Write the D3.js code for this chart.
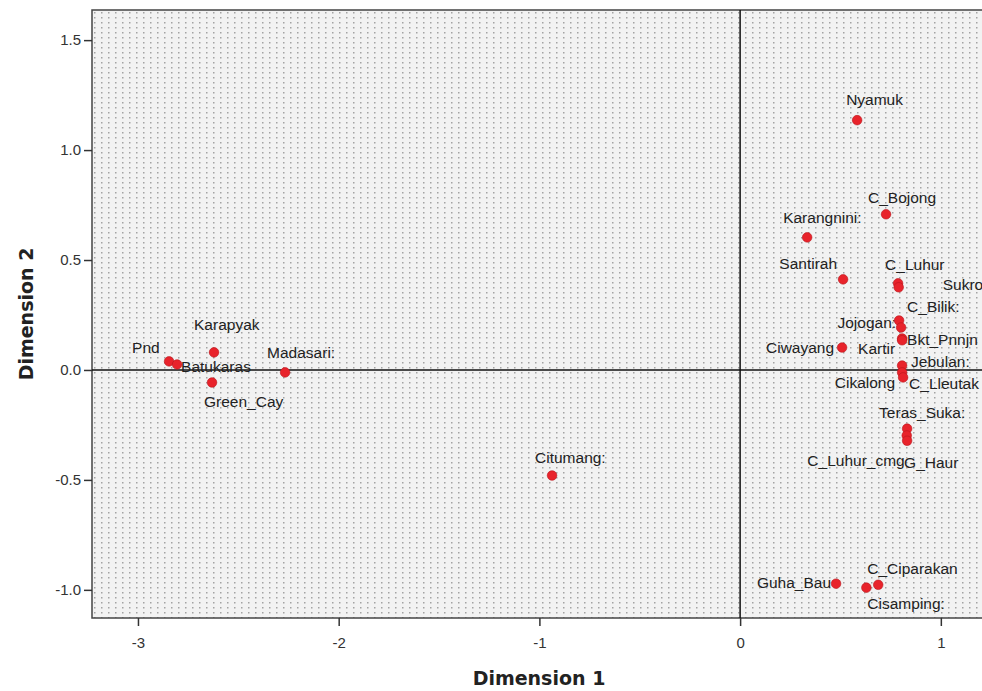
<!DOCTYPE html>
<html>
<head>
<meta charset="utf-8">
<script src="https://cdn.jsdelivr.net/npm/d3@7"></script>
<style>
  body { margin: 0; background: #fff; }
  svg { display: block; font-family: "Liberation Sans", Arial, sans-serif; }
</style>
</head>
<body>
<svg id="chart" width="982" height="691"></svg>
<script>
// site names and their coordinates on the two dimensions
const sites = ['Pnd', 'Batukaras', 'Karapyak', 'Green_Cay', 'Madasari', 'Citumang',
  'Nyamuk', 'C_Bojong', 'Karangnini', 'Santirah', 'C_Luhur', 'Sukro', 'C_Bilik',
  'Jojogan', 'Bkt_Pnnjn', 'Kartir', 'Ciwayang', 'Jebulan', 'Cikalong', 'C_Lleutak',
  'Teras_Suka', 'C_Luhur_cmg', 'G_Haur', 'Guha_Bau', 'Cisamping', 'C_Ciparakan']
const dim1 = [-2.845, -2.805, -2.621, -2.631, -2.267, -0.937,
  0.583, 0.727, 0.334, 0.513, 0.787, 0.790, 0.792,
  0.802, 0.807, 0.807, 0.508, 0.807, 0.807, 0.812,
  0.832, 0.830, 0.832, 0.478, 0.629, 0.688]
const dim2 = [0.039, 0.025, 0.080, -0.057, -0.011, -0.480,
  1.136, 0.708, 0.603, 0.412, 0.394, 0.376, 0.225,
  0.193, 0.143, 0.135, 0.102, 0.020, -0.011, -0.034,
  -0.267, -0.298, -0.322, -0.972, -0.990, -0.977]
// text shown next to each point
const labels = ['Pnd', 'Batukaras', 'Karapyak', 'Green_Cay', 'Madasari:', 'Citumang:',
  'Nyamuk', 'C_Bojong', 'Karangnini:', 'Santirah', 'C_Luhur', 'Sukro', 'C_Bilik:',
  'Jojogan:', 'Bkt_Pnnjn', 'Kartir', 'Ciwayang', 'Jebulan:', 'Cikalong', 'C_Lleutak',
  'Teras_Suka:', 'C_Luhur_cmg', 'G_Haur', 'Guha_Bau', 'Cisamping:', 'C_Ciparakan']
const xTicks = [-3, -2, -1, 0, 1]
const yTicks = [-1.0, -0.5, 0.0, 0.5, 1.0, 1.5]

// label placement relative to the point: [dx, dy, anchor]
const labelPos = {
  'Pnd': [-37, -14, 'start'], 'Batukaras': [4, 2, 'start'], 'Karapyak': [-20, -28, 'start'],
  'Green_Cay': [-8, 19, 'start'], 'Madasari': [-18, -20, 'start'], 'Citumang': [-17, -18, 'start'],
  'Nyamuk': [-11, -21, 'start'], 'C_Bojong': [-18, -17, 'start'], 'Karangnini': [-24, -20, 'start'],
  'Santirah': [-6, -16, 'end'], 'C_Luhur': [-13, -19, 'start'], 'Sukro': [44, -3, 'start'],
  'C_Bilik': [8, -14, 'start'], 'Jojogan': [-5, -5, 'end'], 'Bkt_Pnnjn': [5, 1, 'start'],
  'Kartir': [-7, 8, 'end'], 'Ciwayang': [-8, 0, 'end'], 'Jebulan': [9, -4, 'start'],
  'Cikalong': [-7, 10, 'end'], 'C_Lleutak': [6, 6, 'start'], 'Teras_Suka': [-28, -16, 'start'],
  'C_Luhur_cmg': [-2, 25, 'end'], 'G_Haur': [-3, 22, 'start'], 'Guha_Bau': [-5, -1, 'end'],
  'Cisamping': [1, 16, 'start'], 'C_Ciparakan': [-11, -16, 'start']
}

const points = sites.map((s, i) => ({ site: s, x: dim1[i], y: dim2[i], label: labels[i] }))

const plot = { left: 92, top: 10, right: 986, bottom: 618 }
const svg = d3.select('#chart')

const xScale = d3.scaleLinear().domain([-3.229, 1.225]).range([plot.left, plot.right])
const yScale = d3.scaleLinear().domain([-1.128, 1.637]).range([plot.bottom, plot.top])

// SPSS style tick text uses a plain hyphen for negatives
const hyphen = f => d => f(d).replace('\u2212', '-')

// dotted background like the SPSS chart fill
const defs = svg.append('defs')
const pat = defs.append('pattern')
  .attr('id', 'dots').attr('patternUnits', 'userSpaceOnUse')
  .attr('width', 7).attr('height', 5)
pat.append('rect').attr('width', 7).attr('height', 5).attr('fill', '#f2f2f2')
pat.append('rect').attr('x', 3).attr('y', 2).attr('width', 1.5).attr('height', 1.5).attr('fill', '#a3a3a3')

svg.append('rect')
  .attr('x', plot.left).attr('y', plot.top)
  .attr('width', plot.right - plot.left).attr('height', plot.bottom - plot.top)
  .attr('fill', 'url(#dots)')
  .attr('stroke', '#444').attr('stroke-width', 1.5)

// axes
const xAxis = svg.append('g')
  .attr('transform', `translate(0, ${plot.bottom})`)
  .call(d3.axisBottom(xScale).tickValues(xTicks).tickFormat(hyphen(d3.format('d'))).tickSize(8).tickSizeOuter(0))
const yAxis = svg.append('g')
  .attr('transform', `translate(${plot.left}, 0)`)
  .call(d3.axisLeft(yScale).tickValues(yTicks).tickFormat(hyphen(d3.format('.1f'))).tickSize(8).tickSizeOuter(0))

;[xAxis, yAxis].forEach(ax => {
  ax.select('.domain').remove()
  ax.selectAll('line').attr('stroke', '#333').attr('stroke-width', 1.5)
  ax.selectAll('text').attr('fill', '#333').style('font-size', '15px')
    .style('font-family', '"Liberation Sans", Arial, sans-serif')
})
xAxis.selectAll('text').attr('dy', '1.25em')
yAxis.selectAll('text').attr('x', -11)

// reference lines at zero
svg.append('line')
  .attr('x1', xScale(0)).attr('x2', xScale(0))
  .attr('y1', plot.top).attr('y2', plot.bottom)
  .attr('stroke', '#111').attr('stroke-width', 1.5)
svg.append('line')
  .attr('x1', plot.left).attr('x2', plot.right)
  .attr('y1', yScale(0)).attr('y2', yScale(0))
  .attr('stroke', '#111').attr('stroke-width', 1.5)

// labels
svg.append('g').selectAll('text')
  .data(points)
  .join('text')
  .attr('x', d => xScale(d.x) + labelPos[d.site][0])
  .attr('y', d => yScale(d.y) + labelPos[d.site][1])
  .attr('dy', '0.35em')
  .attr('text-anchor', d => labelPos[d.site][2])
  .attr('fill', '#222')
  .style('font-size', '15.5px')
  .text(d => d.label)

// points
svg.append('g').selectAll('circle')
  .data(points)
  .join('circle')
  .attr('cx', d => xScale(d.x))
  .attr('cy', d => yScale(d.y))
  .attr('r', 4.8)
  .attr('fill', '#e8232b')
  .attr('stroke', '#b8161c')
  .attr('stroke-width', 0.6)

// axis titles
svg.append('text')
  .attr('x', (plot.left + plot.right) / 2).attr('y', 685)
  .attr('text-anchor', 'middle')
  .style('font-family', '"DejaVu Sans", Verdana, sans-serif')
  .style('font-size', '19px').style('font-weight', 'bold')
  .attr('fill', '#222')
  .text('Dimension 1')
svg.append('text')
  .attr('transform', `translate(33, ${(plot.top + plot.bottom) / 2}) rotate(-90)`)
  .attr('text-anchor', 'middle')
  .style('font-family', '"DejaVu Sans", Verdana, sans-serif')
  .style('font-size', '19px').style('font-weight', 'bold')
  .attr('fill', '#222')
  .text('Dimension 2')
</script>
</body>
</html>
